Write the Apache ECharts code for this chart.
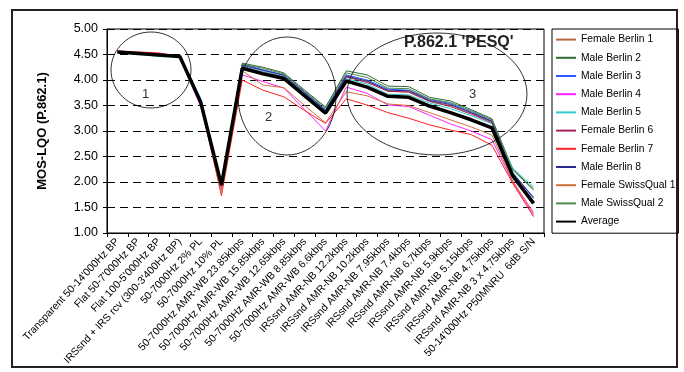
<!DOCTYPE html>
<html><head><meta charset="utf-8">
<script src="https://cdn.jsdelivr.net/npm/echarts@6/dist/echarts.min.js"></script>
<style>html,body{margin:0;padding:0;background:#fff}#c{width:684px;height:372px}</style>
</head><body><div id="c"></div>
<script>
const categories = [
  "Transparent 50-14'000Hz BP",
  "Flat 50-7'000Hz BP",
  "Flat 100-5'000Hz BP",
  "IRSsnd + IRS rcv (300-3'400Hz BP)",
  "50-7000Hz 2% PL",
  "50-7000Hz 10% PL",
  "50-7000Hz AMR-WB 23.85kbps",
  "50-7000Hz AMR-WB 15.85kbps",
  "50-7000Hz AMR-WB 12.65kbps",
  "50-7000Hz AMR-WB 8.85kbps",
  "50-7000Hz AMR-WB 6.6kbps",
  "IRSsnd AMR-NB 12.2kbps",
  "IRSsnd AMR-NB 10.2kbps",
  "IRSsnd AMR-NB 7.95kbps",
  "IRSsnd AMR-NB 7.4kbps",
  "IRSsnd AMR-NB 6.7kbps",
  "IRSsnd AMR-NB 5.9kbps",
  "IRSsnd AMR-NB 5.15kbps",
  "IRSsnd AMR-NB 4.75kbps",
  "IRSsnd AMR-NB 3 x 4.75kbps",
  "50-14'000Hz P50MNRU  6dB S/N"
];
const yTicks = [1.0, 1.5, 2.0, 2.5, 3.0, 3.5, 4.0, 4.5, 5.0];

const femaleBerlin1   = [4.56,4.53,4.51,4.46,3.57,1.90,4.25,4.14,4.05,3.70,3.36,4.07,3.97,3.78,3.77,3.59,3.50,3.35,3.18,2.13,1.60];
const maleBerlin2     = [4.55,4.52,4.49,4.46,3.60,1.95,4.33,4.25,4.14,3.80,3.47,4.18,4.10,3.88,3.87,3.66,3.59,3.42,3.24,2.25,1.86];
const maleBerlin3     = [4.55,4.52,4.49,4.46,3.58,1.95,4.31,4.20,4.10,3.76,3.42,4.10,4.00,3.82,3.80,3.62,3.54,3.38,3.20,2.18,1.70];
const maleBerlin4     = [4.55,4.52,4.48,4.45,3.48,1.85,4.10,3.97,3.84,3.42,3.00,3.86,3.74,3.51,3.48,3.31,3.14,3.00,2.83,2.00,1.36];
const maleBerlin5     = [4.55,4.51,4.46,4.45,3.64,1.98,4.27,4.17,4.07,3.73,3.40,4.03,3.92,3.72,3.71,3.55,3.44,3.30,3.14,2.27,1.90];
const femaleBerlin6   = [4.56,4.53,4.50,4.46,3.56,1.93,4.26,4.15,4.06,3.72,3.38,4.06,3.95,3.78,3.76,3.58,3.48,3.33,3.16,2.15,1.62];
const femaleBerlin7   = [4.57,4.55,4.53,4.46,3.55,1.73,4.00,3.80,3.67,3.40,3.15,3.63,3.51,3.36,3.25,3.12,3.02,2.93,2.72,1.97,1.32];
const maleBerlin8     = [4.55,4.52,4.49,4.46,3.59,1.96,4.29,4.19,4.09,3.75,3.41,4.08,3.98,3.80,3.79,3.60,3.52,3.36,3.19,2.17,1.68];
const femaleSwissQual1= [4.55,4.52,4.49,4.46,3.54,1.78,4.18,3.90,3.85,3.50,3.16,3.77,3.69,3.53,3.50,3.36,3.22,3.08,2.92,2.02,1.40];
const maleSwissQual2  = [4.55,4.52,4.49,4.46,3.58,1.96,4.31,4.23,4.12,3.78,3.45,4.14,4.05,3.84,3.83,3.63,3.56,3.40,3.22,2.23,1.84];
const average         = [4.55,4.52,4.49,4.46,3.57,1.94,4.23,4.12,4.03,3.69,3.35,3.98,3.86,3.68,3.66,3.49,3.36,3.22,3.06,2.12,1.58];

const seriesNames = ["Female Berlin 1","Male Berlin 2","Male Berlin 3","Male Berlin 4","Male Berlin 5","Female Berlin 6","Female Berlin 7","Male Berlin 8","Female SwissQual 1","Male SwissQual 2","Average"];
const seriesData = [femaleBerlin1,maleBerlin2,maleBerlin3,maleBerlin4,maleBerlin5,femaleBerlin6,femaleBerlin7,maleBerlin8,femaleSwissQual1,maleSwissQual2,average];
const seriesColors = ["#b5653f","#2f6b2f","#2a5cff","#ff22ff","#33cccc","#a3245e","#ff2020","#2b2b8f","#d0703c","#4f8a4f","#000000"];

const FONT = "Arial, 'Liberation Sans', sans-serif";
const chart = echarts.init(document.getElementById('c'), null, {renderer:'canvas'});

const series = seriesNames.map((n,i)=>({
  name:n, type:'line', data:seriesData[i], symbol:'none', showSymbol:false,
  lineStyle:{color:seriesColors[i], width: n==='Average'?3.5:1},
  itemStyle:{color:seriesColors[i]},
  z: n==='Average'?5:2, animation:false
}));

chart.setOption({
  backgroundColor:'#fff',
  animation:false,
  grid:{left:107, top:29, width:437, height:204, show:true, borderColor:'#000', borderWidth:1, backgroundColor:'transparent'},
  xAxis:{
    type:'category', data:categories, boundaryGap:true,
    axisLine:{lineStyle:{color:'#000', width:1}},
    axisTick:{show:true, length:4, interval:0, lineStyle:{color:'#000'}},
    axisLabel:{interval:0, rotate:47, fontSize:10.5, color:'#000', fontFamily:FONT, margin:7}
  },
  yAxis:{
    type:'value', min:1, max:5, interval:0.5,
    name:'MOS-LQO (P.862.1)', nameLocation:'middle', nameRotate:90, nameGap:58,
    nameTextStyle:{fontSize:13, fontWeight:'bold', color:'#000', fontFamily:FONT},
    axisLine:{show:true, lineStyle:{color:'#000'}},
    axisTick:{show:true, length:4, lineStyle:{color:'#000'}},
    axisLabel:{fontSize:12.5, color:'#000', fontFamily:FONT, margin:9,
      formatter:v=>yTicks.includes(v)?v.toFixed(2):''},
    splitLine:{show:true, lineStyle:{color:'#000', type:[8,5], width:1}}
  },
  legend:{
    orient:'vertical', left:552, top:29, padding:[5,3,6,3],
    borderColor:'#000', borderWidth:1, itemWidth:20, itemHeight:14, itemGap:7,
    itemStyle:{opacity:0},
    textStyle:{fontSize:10.3, color:'#000', fontFamily:FONT},
    data:seriesNames
  },
  series:series,
  graphic:[
    {type:'rect', shape:{x:12, y:10, width:665, height:357}, style:{fill:'none', stroke:'#222', lineWidth:2}, z:0, silent:true},
    {type:'ellipse', shape:{cx:151, cy:70, rx:40, ry:38}, style:{fill:'none', stroke:'#000', lineWidth:0.8}, z:10},
    {type:'ellipse', shape:{cx:287, cy:96, rx:49, ry:59}, style:{fill:'none', stroke:'#000', lineWidth:0.8}, z:10},
    {type:'ellipse', shape:{cx:437, cy:94, rx:90, ry:61}, style:{fill:'none', stroke:'#000', lineWidth:0.8}, z:10},
    {type:'text', x:142, y:88, style:{text:'1', fill:'#333', font:'13px '+FONT}, z:10},
    {type:'text', x:265, y:111, style:{text:'2', fill:'#333', font:'13px '+FONT}, z:10},
    {type:'text', x:469, y:88, style:{text:'3', fill:'#333', font:'13px '+FONT}, z:10},
    {type:'text', x:404, y:35, style:{text:"P.862.1 'PESQ'", fill:'#222', font:'bold 16px '+FONT}, z:10}
  ]
});
</script></body></html>
